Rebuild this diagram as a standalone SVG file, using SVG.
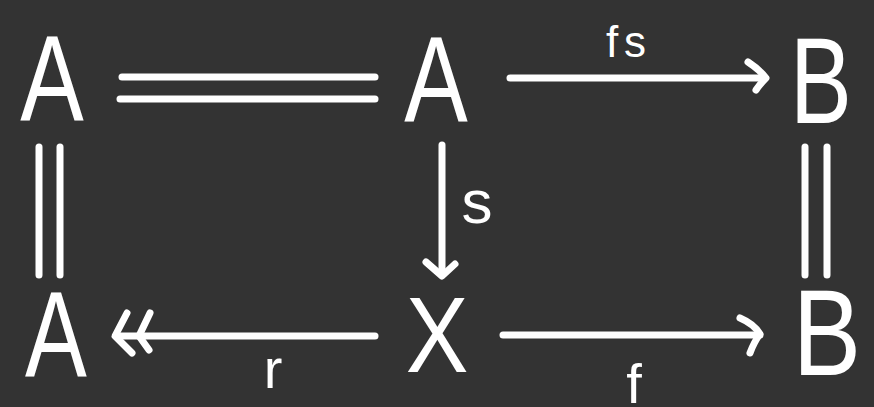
<svg xmlns="http://www.w3.org/2000/svg" width="874" height="407" viewBox="0 0 874 407">
<style>
.bg{fill:#333333}
.node{font-family:"Liberation Sans",Arial,sans-serif;fill:#ffffff;text-anchor:middle}
.lbl{font-family:"Liberation Sans",Arial,sans-serif;fill:#ffffff;text-anchor:middle}
.ln{stroke:#ffffff;stroke-width:7;stroke-linecap:round;stroke-linejoin:round;fill:none}
</style>
<rect class="bg" x="0" y="0" width="874" height="407"/>
<g id="node-A1"><text class="node" font-size="122" transform="translate(52,121) scale(0.78,1)">A</text></g>
<g id="node-A2"><text class="node" font-size="122" transform="translate(436,122) scale(0.78,1)">A</text></g>
<g id="node-B1"><text class="node" font-size="122" transform="translate(821,123) scale(0.76,1)">B</text></g>
<g id="node-A3"><text class="node" font-size="122" transform="translate(56,377) scale(0.76,1)">A</text></g>
<g id="node-X"><text class="node" font-size="108" transform="translate(437,372) scale(0.87,1)">X</text></g>
<g id="node-B2"><text class="node" font-size="122" transform="translate(827,375) scale(0.84,1)">B</text></g>
<g id="connectors">
  <line class="ln" x1="122" y1="77" x2="375" y2="77"/>
  <line class="ln" x1="120" y1="99" x2="375" y2="99"/>
  <line class="ln" x1="510" y1="78" x2="765" y2="78"/>
  <path class="ln" d="M748,62 Q760,70 766,78 Q760,84 756,90"/>
  <line class="ln" x1="39" y1="147" x2="39" y2="275"/>
  <line class="ln" x1="60" y1="147" x2="60" y2="275"/>
  <line class="ln" x1="805" y1="147" x2="805" y2="275"/>
  <line class="ln" x1="827" y1="147" x2="827" y2="275"/>
  <line class="ln" x1="442" y1="145" x2="442" y2="275"/>
  <path class="ln" d="M426,262 L442,276 L455,264"/>
  <line class="ln" x1="375" y1="336" x2="118" y2="336"/>
  <path class="ln" d="M127,313 L115,336 L132,353"/>
  <path class="ln" d="M150,313 L139,336 L149,350"/>
  <line class="ln" x1="503" y1="335" x2="760" y2="335"/>
  <path class="ln" d="M740,318 Q754,324 760,334 Q754,342 750,353"/>
</g>
<g id="labels">
  <text class="lbl" font-size="44" x="629" y="57" letter-spacing="6">fs</text>
  <text class="lbl" font-size="62" x="477" y="223">s</text>
  <text class="lbl" font-size="56" x="273" y="388">r</text>
  <text class="lbl" font-size="56" x="634" y="403">f</text>
</g>
</svg>
